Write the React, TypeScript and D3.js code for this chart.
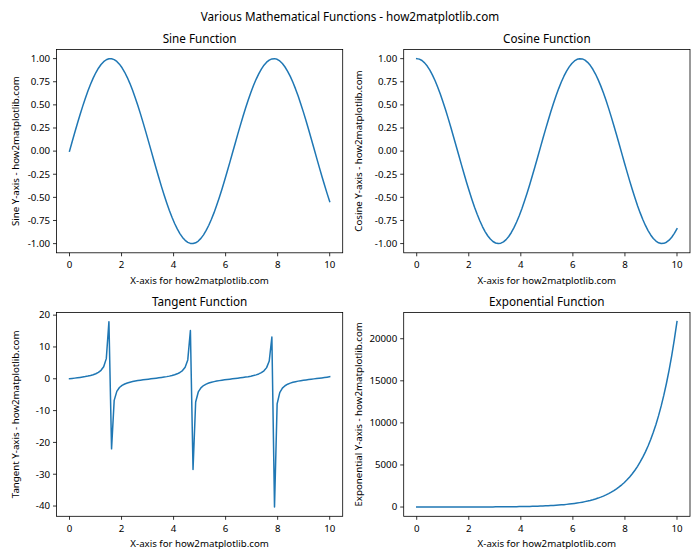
import React from "react";
import * as d3 from "d3";

const xValues = [0, 0.10101, 0.20202, 0.30303, 0.40404, 0.50505, 0.60606, 0.70707, 0.80808, 0.90909,
  1.0101, 1.11111, 1.21212, 1.31313, 1.41414, 1.51515, 1.61616, 1.71717, 1.81818, 1.91919,
  2.0202, 2.12121, 2.22222, 2.32323, 2.42424, 2.52525, 2.62626, 2.72727, 2.82828, 2.92929,
  3.0303, 3.13131, 3.23232, 3.33333, 3.43434, 3.53535, 3.63636, 3.73737, 3.83838, 3.93939,
  4.0404, 4.14141, 4.24242, 4.34343, 4.44444, 4.54545, 4.64646, 4.74747, 4.84848, 4.94949,
  5.05051, 5.15152, 5.25253, 5.35354, 5.45455, 5.55556, 5.65657, 5.75758, 5.85859, 5.9596,
  6.06061, 6.16162, 6.26263, 6.36364, 6.46465, 6.56566, 6.66667, 6.76768, 6.86869, 6.9697,
  7.07071, 7.17172, 7.27273, 7.37374, 7.47475, 7.57576, 7.67677, 7.77778, 7.87879, 7.9798,
  8.08081, 8.18182, 8.28283, 8.38384, 8.48485, 8.58586, 8.68687, 8.78788, 8.88889, 8.9899,
  9.09091, 9.19192, 9.29293, 9.39394, 9.49495, 9.59596, 9.69697, 9.79798, 9.89899, 10];

const sineValues = [0, 0.1008, 0.2007, 0.2984, 0.3931, 0.4839, 0.5696, 0.6496, 0.723, 0.789,
  0.8469, 0.8962, 0.9364, 0.967, 0.9878, 0.9985, 0.999, 0.9893, 0.9696, 0.9399,
  0.9007, 0.8523, 0.7952, 0.73, 0.6574, 0.5781, 0.4928, 0.4026, 0.3082, 0.2107,
  0.1111, 0.0103, -0.0906, -0.1906, -0.2886, -0.3837, -0.4748, -0.5612, -0.6418, -0.7158,
  -0.7826, -0.8414, -0.8916, -0.9327, -0.9643, -0.9861, -0.9978, -0.9994, -0.9908, -0.972,
  -0.9434, -0.9051, -0.8576, -0.8014, -0.737, -0.6651, -0.5863, -0.5017, -0.412, -0.318,
  -0.2207, -0.1213, -0.0206, 0.0804, 0.1805, 0.2787, 0.3742, 0.4658, 0.5526, 0.6339,
  0.7086, 0.7762, 0.8358, 0.8869, 0.929, 0.9616, 0.9843, 0.9971, 0.9997, 0.9921,
  0.9744, 0.9467, 0.9095, 0.8629, 0.8075, 0.7439, 0.6728, 0.5947, 0.5106, 0.4213,
  0.3277, 0.2308, 0.1315, 0.0308, -0.0701, -0.1704, -0.2688, -0.3646, -0.4566, -0.544];

const cosineValues = [1, 0.9949, 0.9797, 0.9544, 0.9195, 0.8752, 0.8219, 0.7603, 0.6909, 0.6145,
  0.5318, 0.4437, 0.351, 0.2548, 0.156, 0.0556, -0.0454, -0.1459, -0.2449, -0.3414,
  -0.4344, -0.5231, -0.6063, -0.6834, -0.7536, -0.816, -0.8701, -0.9154, -0.9513, -0.9776,
  -0.9938, -0.9999, -0.9959, -0.9817, -0.9575, -0.9235, -0.8801, -0.8277, -0.7669, -0.6983,
  -0.6225, -0.5405, -0.4529, -0.3607, -0.2648, -0.1662, -0.0659, 0.0351, 0.1357, 0.2349,
  0.3317, 0.4251, 0.5142, 0.5981, 0.6759, 0.7468, 0.81, 0.865, 0.9112, 0.9481,
  0.9753, 0.9926, 0.9998, 0.9968, 0.9836, 0.9604, 0.9274, 0.8849, 0.8334, 0.7735,
  0.7056, 0.6306, 0.5491, 0.462, 0.3702, 0.2747, 0.1762, 0.0761, -0.0248, -0.1255,
  -0.2249, -0.322, -0.4158, -0.5054, -0.5898, -0.6683, -0.7399, -0.804, -0.8598, -0.9069,
  -0.9448, -0.973, -0.9913, -0.9995, -0.9975, -0.9854, -0.9632, -0.9312, -0.8897, -0.8391];

const tangentValues = [0, 0.1014, 0.2048, 0.3127, 0.4276, 0.5529, 0.6931, 0.8545, 1.0464, 1.284,
  1.5925, 2.0198, 2.6677, 3.7951, 6.331, 17.951, -22.028, -6.7826, -3.9593, -2.7532,
  -2.0732, -1.6295, -1.3116, -1.0682, -0.8723, -0.7084, -0.5664, -0.4398, -0.324, -0.2155,
  -0.1118, -0.0103, 0.091, 0.1941, 0.3014, 0.4155, 0.5395, 0.678, 0.8369, 1.0251,
  1.2571, 1.5569, 1.9688, 2.5862, 3.6423, 5.9343, 15.146, -28.497, -7.3027, -4.1382,
  -2.844, -2.129, -1.6678, -1.3399, -1.0904, -0.8907, -0.7238, -0.5801, -0.4521, -0.3354,
  -0.2263, -0.1222, -0.0206, 0.0806, 0.1835, 0.2902, 0.4035, 0.5263, 0.6631, 0.8195,
  1.0042, 1.2309, 1.5222, 1.9196, 2.5093, 3.501, 5.5859, 13.095, -40.31, -7.9064,
  -4.3329, -2.9403, -2.1871, -1.7073, -1.369, -1.1132, -0.9093, -0.7397, -0.5939, -0.4645,
  -0.3469, -0.2372, -0.1326, -0.0309, 0.0703, 0.1729, 0.2791, 0.3916, 0.5133, 0.6484];

const expValues = [1, 1.106, 1.224, 1.354, 1.498, 1.657, 1.833, 2.028, 2.244, 2.482,
  2.746, 3.038, 3.361, 3.718, 4.113, 4.55, 5.034, 5.569, 6.161, 6.816,
  7.54, 8.341, 9.228, 10.209, 11.294, 12.494, 13.822, 15.291, 16.917, 18.714,
  20.703, 22.903, 25.338, 28.031, 31.01, 34.306, 37.952, 41.986, 46.449, 51.386,
  56.849, 62.892, 69.576, 76.971, 85.152, 94.203, 104.214, 115.293, 127.547, 141.107,
  156.1, 172.69, 191.05, 211.36, 233.82, 258.67, 286.16, 316.58, 350.23, 387.45,
  428.63, 474.19, 524.59, 580.34, 642.03, 710.27, 785.76, 869.28, 961.68, 1063.89,
  1177.0, 1302.1, 1440.5, 1593.6, 1763.0, 1950.4, 2157.6, 2387.0, 2640.7, 2921.4,
  3231.8, 3575.3, 3955.3, 4375.8, 4840.8, 5355.3, 5924.5, 6554.2, 7250.9, 8021.5,
  8874.2, 9817.4, 10860.9, 12015.3, 13292.4, 14705.3, 16268.3, 17997.5, 19910.5, 22026.5];

const xTicks = [0, 2, 4, 6, 8, 10];
const trigTicks = [-1, -0.75, -0.5, -0.25, 0, 0.25, 0.5, 0.75, 1];
const tanTicks = [-40, -30, -20, -10, 0, 10, 20];
const expTicks = [0, 5000, 10000, 15000, 20000];

const suptitle = "Various Mathematical Functions - how2matplotlib.com";
const xLabel = "X-axis for how2matplotlib.com";

const FONT = "'Noto Sans', 'DejaVu Sans', sans-serif";
const LINE = "#1f77b4";

type PanelProps = {
  left: number; right: number; top: number; bottom: number;
  ys: number[]; title: string; ylabel: string; yTicks: number[];
  fmt: (v: number) => string; labelX: number;
};

function Panel({ left, right, top, bottom, ys, title, ylabel, yTicks, fmt, labelX }: PanelProps) {
  const xExt = d3.extent(xValues) as [number, number];
  const xPad = (xExt[1] - xExt[0]) * 0.05;
  const x = d3.scaleLinear().domain([xExt[0] - xPad, xExt[1] + xPad]).range([left, right]);
  const yExt = d3.extent(ys) as [number, number];
  const yPad = (yExt[1] - yExt[0]) * 0.05;
  const y = d3.scaleLinear().domain([yExt[0] - yPad, yExt[1] + yPad]).range([bottom, top]);
  const line = d3.line<number>().x((_, i) => x(xValues[i])).y((d) => y(d));
  const cx = (left + right) / 2;
  const cy = (top + bottom) / 2;
  return (
    <g>
      <path d={line(ys) || ""} fill="none" stroke={LINE} strokeWidth={1.5} strokeLinejoin="round" strokeLinecap="square" />
      <rect x={left} y={top} width={right - left} height={bottom - top} fill="none" stroke="#000" strokeWidth={0.8} />
      {xTicks.map((t) => (
        <g key={"x" + t}>
          <line x1={x(t)} x2={x(t)} y1={bottom} y2={bottom + 3.5} stroke="#000" strokeWidth={0.8} />
          <text x={x(t)} y={bottom + 15.5} textAnchor="middle" fontSize={9.7} fontFamily={FONT} fill="#000">{t}</text>
        </g>
      ))}
      {yTicks.map((t) => (
        <g key={"y" + t}>
          <line x1={left - 3.5} x2={left} y1={y(t)} y2={y(t)} stroke="#000" strokeWidth={0.8} />
          <text x={left - 6.5} y={y(t)} dy="0.34em" textAnchor="end" fontSize={9.7} fontFamily={FONT} fill="#000">{fmt(t)}</text>
        </g>
      ))}
      <text x={cx} y={top - 6} textAnchor="middle" fontSize={11.7} fontFamily={FONT} fill="#000">{title}</text>
      <text x={cx} y={bottom + 30.8} textAnchor="middle" fontSize={9.7} fontFamily={FONT} fill="#000">{xLabel}</text>
      <text transform={`translate(${labelX},${cy}) rotate(-90)`} textAnchor="middle" fontSize={9.7} fontFamily={FONT} fill="#000">{ylabel}</text>
    </g>
  );
}

export default function App() {
  const f2 = (v: number) => {
    const s = v.toFixed(2);
    return s.replace("-", "-");
  };
  const fi = (v: number) => String(v);
  return (
    <svg width={700} height={560} style={{ display: "block", position: "absolute", left: 0, top: 0, background: "#fff" }}>
      <rect width={700} height={560} fill="#fff" />
      <text x={350} y={20.5} textAnchor="middle" fontSize={11.7} fontFamily={FONT} fill="#000">{suptitle}</text>
      <Panel left={56.5} right={342.7} top={49.4} bottom={252.8} ys={sineValues} title="Sine Function"
        ylabel="Sine Y-axis - how2matplotlib.com" yTicks={trigTicks} fmt={f2} labelX={19} />
      <Panel left={403.7} right={690} top={49.4} bottom={252.8} ys={cosineValues} title="Cosine Function"
        ylabel="Cosine Y-axis - how2matplotlib.com" yTicks={trigTicks} fmt={f2} labelX={361.5} />
      <Panel left={56.5} right={342.7} top={312.4} bottom={516.3} ys={tangentValues} title="Tangent Function"
        ylabel="Tangent Y-axis - how2matplotlib.com" yTicks={tanTicks} fmt={fi} labelX={19} />
      <Panel left={403.7} right={690} top={312.4} bottom={516.3} ys={expValues} title="Exponential Function"
        ylabel="Exponential Y-axis - how2matplotlib.com" yTicks={expTicks} fmt={fi} labelX={361.5} />
    </svg>
  );
}
